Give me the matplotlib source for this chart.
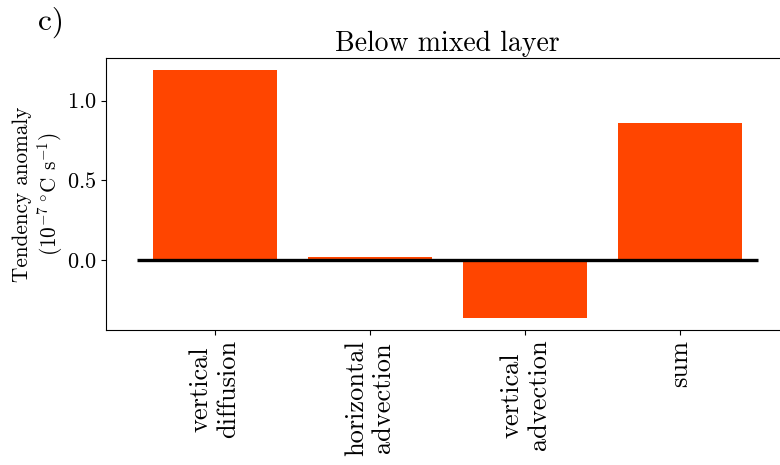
import matplotlib
matplotlib.use("Agg")
import matplotlib.pyplot as plt

plt.rcParams["font.family"] = ["cmr10", "DejaVu Serif"]
plt.rcParams["mathtext.fontset"] = "cm"
plt.rcParams["axes.formatter.use_mathtext"] = True
plt.rcParams["axes.unicode_minus"] = False

# Tendency terms below the mixed layer
terms = ["vertical\ndiffusion", "horizontal\nadvection", "vertical\nadvection", "sum"]
values = [1.19, 0.02, -0.36, 0.86]
yticks = [0.0, 0.5, 1.0]
ytick_labels = ["0.0", "0.5", "1.0"]

fig = plt.figure(figsize=(7.8, 4.65), dpi=100)
ax = fig.add_axes([0.1359, 0.2903, 0.8756, 0.585])

x = list(range(len(terms)))
ax.bar(x, values, width=0.8, color="#ff4500")
ax.hlines(0, -0.5, len(terms) - 0.5, color="black", linewidth=2.4)

ax.set_xlim(-0.7, 3.7)
ax.set_ylim(-0.4375, 1.2675)
ax.set_xticks(x)
ax.set_xticklabels(terms, rotation=90, fontsize=19)
ax.set_yticks(yticks)
ax.set_yticklabels(["$\\mathdefault{%s}$" % t for t in ytick_labels], fontsize=16)

ax.set_ylabel("Tendency anomaly\n($10^{-7}\\,^{\\circ}$C s$^{-1}$)", fontsize=15.3, labelpad=1)
ax.set_title("Below mixed layer", fontsize=20, pad=5)
fig.text(0.049, 0.935, "c)", fontsize=22.5)

fig.savefig("out.png", dpi=100)
